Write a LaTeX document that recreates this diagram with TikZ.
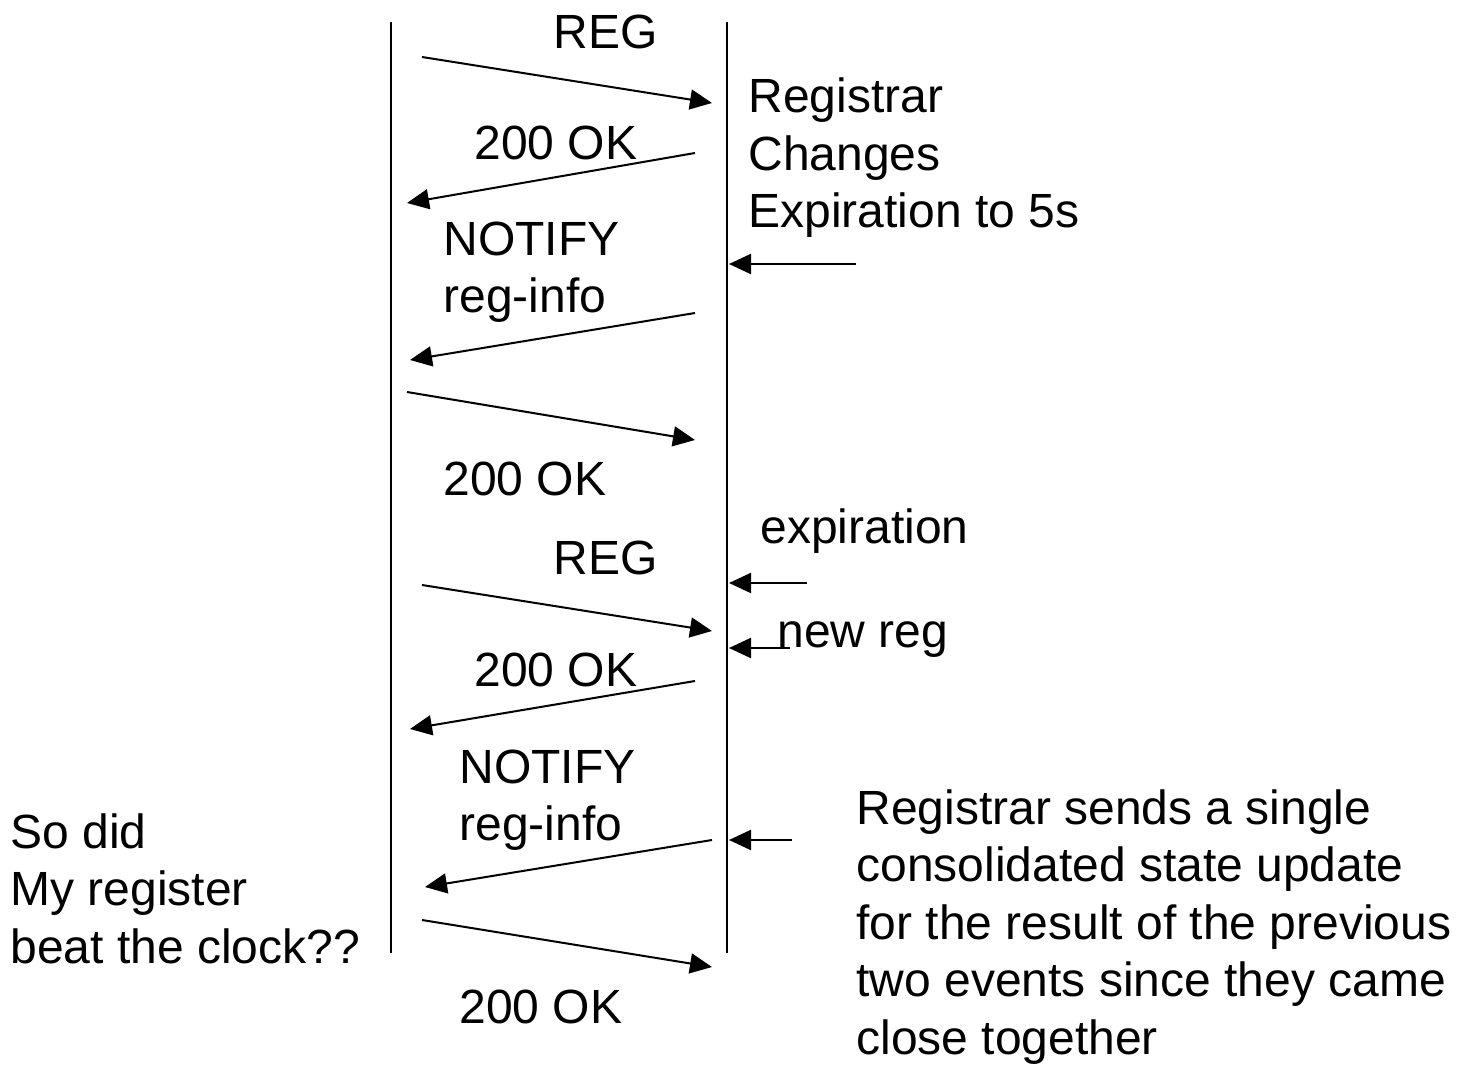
\documentclass[tikz,border=0pt]{standalone}
\usepackage{fontspec}
\setmainfont{Liberation Sans}
\usetikzlibrary{arrows.meta}
\tikzset{
  msg/.style={line width=1pt,-{Triangle[length=11pt,width=10pt]}},
  life/.style={line width=1pt},
  lbl/.style={inner sep=0pt,anchor=base west,align=left,
    font=\fontsize{24pt}{28.75pt}\selectfont},
  clbl/.style={lbl,anchor=base}
}
\begin{document}
\begin{tikzpicture}[x=0.5pt,y=-0.5pt]
\useasboundingbox (0,0) rectangle (1458,1069);

% lifelines
\coordinate (ua top) at (391,22);
\coordinate (ua bot) at (391,953);
\coordinate (reg top) at (727,22);
\coordinate (reg bot) at (727,953);
\draw[life] (ua top) -- (ua bot);
\draw[life] (reg top) -- (reg bot);

% message ends
\coordinate (m1s) at (422,57);   \coordinate (m1e) at (712,103);
\coordinate (m2s) at (695,153);  \coordinate (m2e) at (407,203);
\coordinate (m3s) at (695,313);  \coordinate (m3e) at (410,360);
\coordinate (m4s) at (407,392);  \coordinate (m4e) at (695,440);
\coordinate (m5s) at (422,585);  \coordinate (m5e) at (712,631);
\coordinate (m6s) at (695,681);  \coordinate (m6e) at (410,729);
\coordinate (m7s) at (712,840);  \coordinate (m7e) at (425,887);
\coordinate (m8s) at (422,920);  \coordinate (m8e) at (712,967);
\foreach \m in {1,...,8}
  \draw[msg] (m\m s) -- (m\m e);

% local events at the registrar
\coordinate (e1s) at (856,264);  \coordinate (e1e) at (729,264);
\coordinate (e2s) at (807,583);  \coordinate (e2e) at (729,583);
\coordinate (e3s) at (790,648);  \coordinate (e3e) at (729,648);
\coordinate (e4s) at (792,840);  \coordinate (e4e) at (729,840);
\foreach \e in {1,...,4}
  \draw[msg] (e\e s) -- (e\e e);

% labels (multi-line nodes sit on the baseline of their last line)
\node[clbl] (reg1) at (606,49) {REG};
\node[lbl] (ok1) at (474,160) {200 OK};
\node[lbl] (chg) at (748,228) {Registrar\\Changes\\Expiration to 5s};
\node[lbl] (not1) at (443,313) {NOTIFY\\reg-info};
\node[lbl] (ok2) at (443,496) {200 OK};
\node[lbl] (expl) at (760,544) {expiration};
\node[clbl] (reg2) at (606,575) {REG};
\node[lbl] (newreg) at (777,648) {new reg};
\node[lbl] (ok3) at (474,687) {200 OK};
\node[lbl] (not2) at (459,841) {NOTIFY\\reg-info};
\node[lbl] (ok4) at (459,1023) {200 OK};
\node[lbl] (clock) at (10,963) {So did\\My register\\beat the clock??};
\node[lbl] (note) at (856,1054) {Registrar sends a single\\consolidated state update\\for the result of the previous\\two events since they came\\close together};
\end{tikzpicture}
\end{document}
